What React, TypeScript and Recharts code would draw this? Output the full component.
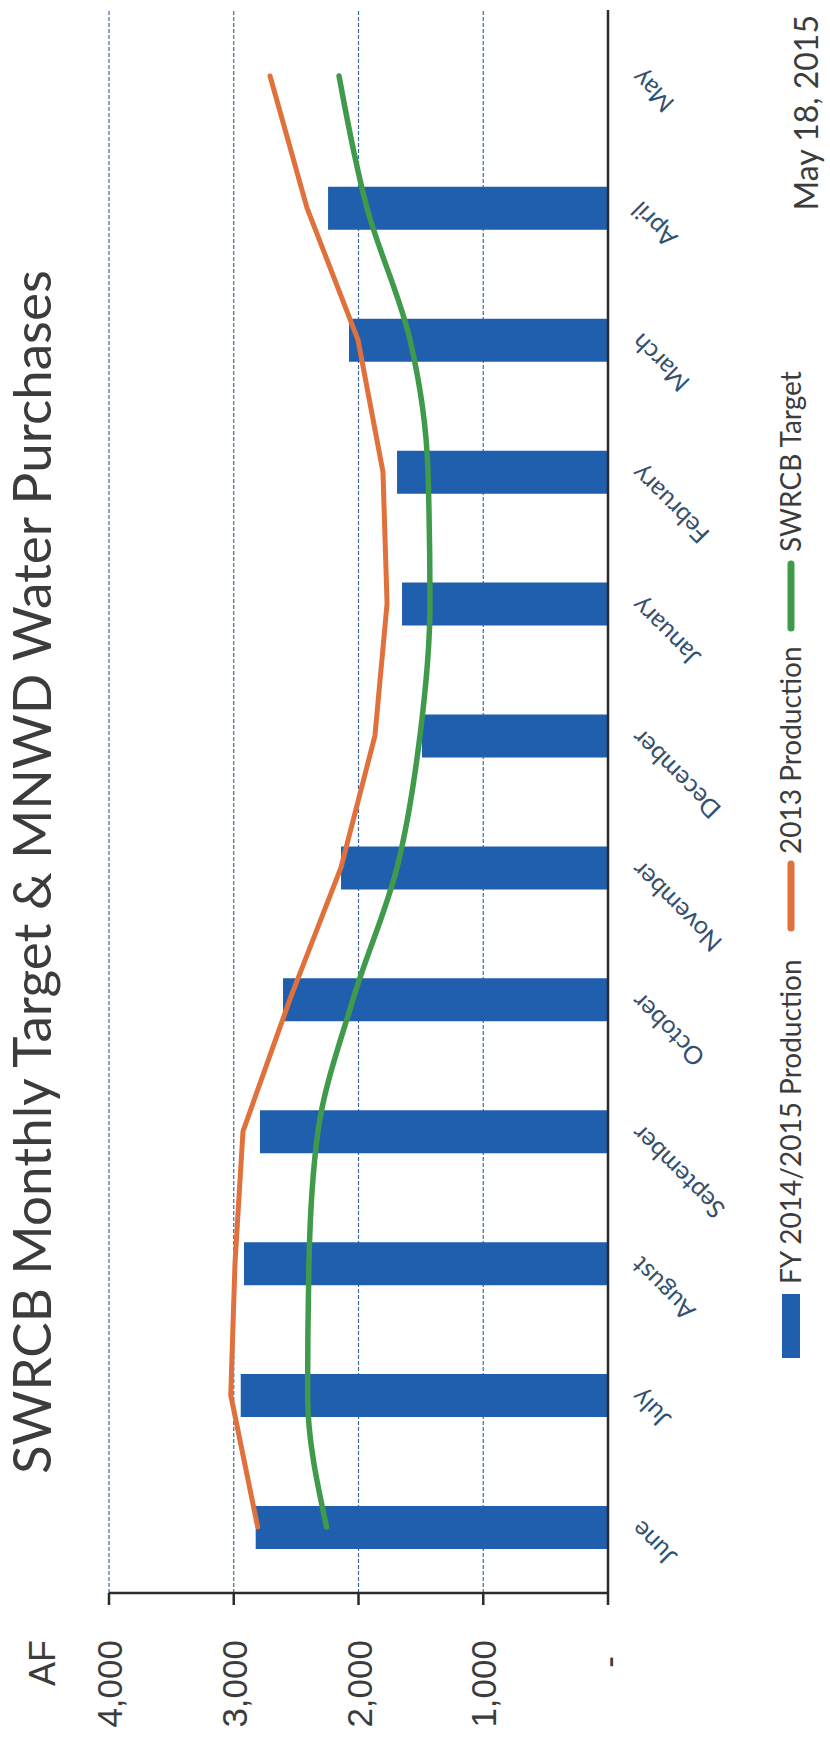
import {
  Bar,
  CartesianGrid,
  ComposedChart,
  Line,
  XAxis,
  YAxis,
} from "recharts";

// Slide is drawn landscape (1738 x 830) and turned a quarter turn
// counter-clockwise so it fills the portrait page, like the scan.
const MONTHS = [
  "June",
  "July",
  "August",
  "September",
  "October",
  "November",
  "December",
  "January",
  "February",
  "March",
  "April",
  "May",
];
const FY_PRODUCTION = [2824, 2944, 2918, 2790, 2605, 2140, 1491, 1651, 1691, 2076, 2244, null];
const PRODUCTION_2013 = [2808, 3024, 2990, 2926, 2550, 2140, 1868, 1771, 1804, 2004, 2413, 2709];
const SWRCB_TARGET = [2256, 2408, 2397, 2325, 2044, 1691, 1507, 1427, 1443, 1587, 1932, 2156];
const VALUE_TICKS = [0, 1000, 2000, 3000, 4000];

const BLUE = "#1f5fae";
const ORANGE = "#e0703c";
const GREEN = "#3f9a4b";
const INK = "#3c3c3c";

const W = 1738;
const H = 830;

const data = MONTHS.map((month, i) => ({
  month,
  fy: FY_PRODUCTION[i],
  prod2013: PRODUCTION_2013[i],
  target: SWRCB_TARGET[i],
}));

function fmt(v: number) {
  return String(v).replace(/\B(?=(\d{3})+(?!\d))/g, ",");
}

function MonthTick({ x, y, payload }: any) {
  const tx = x + 8;
  const ty = y + 34;
  return (
    <text
      x={tx}
      y={ty}
      transform={`rotate(-45, ${tx}, ${ty})`}
      textAnchor="end"
      fontFamily="Lato, sans-serif"
      fontSize={25}
      fill="#34506f"
    >
      {payload.value}
    </text>
  );
}

function ValueTick({ y, payload }: any) {
  const v = payload.value as number;
  return (
    <text
      x={v === 0 ? 82 : 98}
      y={y}
      dy={13}
      textAnchor="end"
      fontFamily="'Liberation Sans', Arial, sans-serif"
      fontSize={35}
      fill={INK}
    >
      {v === 0 ? "-" : fmt(v)}
    </text>
  );
}

function Overlay() {
  const legendFont = { fontFamily: "Lato, sans-serif", fontSize: 28, fill: INK };
  return (
    <svg
      width={W}
      height={H}
      style={{ position: "absolute", left: 0, top: 0, pointerEvents: "none" }}
    >
      <text x={264} y={51} fontFamily="Lato, sans-serif" fontSize={53} fill={INK}>
        SWRCB Monthly Target &amp; MNWD Water Purchases
      </text>
      <text
        x={98}
        y={55}
        textAnchor="end"
        fontFamily="'Liberation Sans', Arial, sans-serif"
        fontSize={36}
        fill={INK}
      >
        AF
      </text>
      <text x={1723} y={818} textAnchor="end" fontFamily="Lato, sans-serif" fontSize={32} fill={INK}>
        May 18, 2015
      </text>

      {/* legend */}
      <rect x={380} y={782} width={64} height={18} fill={BLUE} />
      <text x={454} y={801} {...legendFont}>
        FY 2014/2015 Production
      </text>
      <line x1={810} x2={874} y1={791} y2={791} stroke={ORANGE} strokeWidth={7} strokeLinecap="round" />
      <text x={884} y={801} {...legendFont}>
        2013 Production
      </text>
      <line x1={1110} x2={1174} y1={791} y2={791} stroke={GREEN} strokeWidth={7} strokeLinecap="round" />
      <text x={1186} y={801} {...legendFont}>
        SWRCB Target
      </text>
    </svg>
  );
}

export default function App() {
  return (
    <div
      style={{
        position: "absolute",
        left: 0,
        top: 0,
        width: H,
        height: W,
        overflow: "hidden",
        background: "#fff",
      }}
    >
      <div
        style={{
          position: "absolute",
          left: 0,
          top: 0,
          width: W,
          height: H,
          transformOrigin: "0 0",
          transform: `translate(0px, ${W}px) rotate(-90deg)`,
        }}
      >
        <ComposedChart
          width={W}
          height={H}
          data={data}
          margin={{ top: 109, right: 10, left: 0, bottom: 0 }}
        >
          <CartesianGrid
            vertical={false}
            stroke="#3f6b9c"
            strokeDasharray="4 2"
            strokeWidth={1.2}
          />
          <XAxis
            dataKey="month"
            interval={0}
            height={222}
            tickLine={false}
            tickSize={0}
            tickMargin={0}
            axisLine={{ stroke: "#2b2b2b", strokeWidth: 2.5 }}
            tick={<MonthTick />}
          />
          <YAxis
            width={145}
            domain={[0, 4000]}
            ticks={VALUE_TICKS}
            tickSize={12}
            axisLine={{ stroke: "#2b2b2b", strokeWidth: 2.5 }}
            tickLine={{ stroke: "#2b2b2b", strokeWidth: 2.5 }}
            tick={<ValueTick />}
          />
          <Bar dataKey="fy" fill={BLUE} barSize={43} isAnimationActive={false} />
          <Line
            type="linear"
            dataKey="prod2013"
            stroke={ORANGE}
            strokeWidth={5}
            strokeLinecap="round"
            strokeLinejoin="round"
            dot={false}
            isAnimationActive={false}
          />
          <Line
            type="monotone"
            dataKey="target"
            stroke={GREEN}
            strokeWidth={5.5}
            strokeLinecap="round"
            dot={false}
            isAnimationActive={false}
          />
        </ComposedChart>
        <Overlay />
      </div>
    </div>
  );
}
